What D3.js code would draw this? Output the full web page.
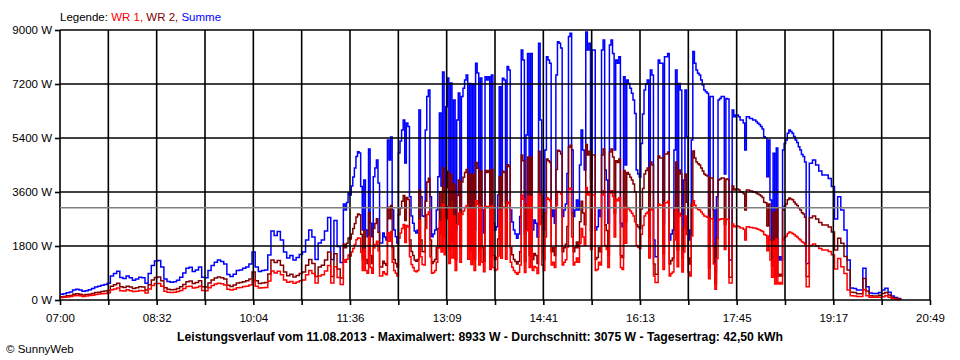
<!DOCTYPE html>
<html><head><meta charset="utf-8">
<script src="https://cdn.jsdelivr.net/npm/d3@7"></script>
<style>
body{margin:0;background:#fff;}
svg{display:block;font-family:"Liberation Sans",Arial,sans-serif;}
</style></head><body><svg id="c" width="960" height="360"></svg>
<script>
// ---- data ----
// logger sampling: [start minute after 07:00, interval (min), number of samples]
const sampling = [[0, 3, 90], [270, 1.5, 294], [711, 3, 31]];
const spanMin = 829;              // 07:00 .. 20:49
const xTickLabels = ["07:00","08:32","10:04","11:36","13:09","14:41","16:13","17:45","19:17","20:49"];
const yTicks = [0,1800,3600,5400,7200,9000];
const averageW = 3075;
const legendItems = [["WR 1, ","#ff0000"],["WR 2, ","#800000"],["Summe","#0000ff"]];
const titleText = "Leistungsverlauf vom 11.08.2013 - Maximalwert: 8933 W - Durchschnitt: 3075 W - Tagesertrag: 42,50 kWh";

const summe = [
190,210,240,270,330,360,330,290,310,340,
380,430,460,490,520,560,800,880,960,750,
720,800,740,660,700,760,740,560,880,1150,
1300,1320,1100,700,620,590,610,660,760,900,
1060,1090,950,1000,1100,760,740,980,1150,1260,
1330,1280,1200,850,780,860,980,1000,1060,1100,
1200,1600,1100,950,980,1000,1500,2300,2150,2280,
2000,1600,1400,1480,1330,1420,1520,1600,2000,2330,
2100,1350,1900,2000,2300,2750,1350,2650,1780,1250,
3200,3000,3250,3570,3500,3800,4100,4400,4780,4940,
4900,3780,2330,4000,2330,2110,5030,2560,2110,4110,
4400,4670,3900,1900,1900,2230,2100,2000,5330,4670,
5430,3000,2330,2110,1900,4900,5300,5670,6000,4570,
5900,5780,3440,2800,2560,2300,2230,2330,6330,3440,
2800,2780,5670,6780,7000,3440,2110,2200,2330,3000,
4110,6230,3800,7600,3600,6440,7400,2900,7230,3330,
6670,2330,6000,6900,3000,6780,7060,7330,7500,3230,
7220,2800,7200,2330,7890,7570,2780,7400,3000,2230,
7440,7330,7440,2440,7500,2560,2330,2440,3500,7110,
3300,7390,7330,3230,7780,7670,3000,2600,2330,2200,
2060,2200,2780,8330,8000,2200,5500,8220,2560,8220,
2330,2670,2560,2100,8560,6000,2780,2330,5000,8110,
8000,7890,2780,3000,2560,7500,8610,8560,8400,2780,
3000,3200,4220,8780,8890,5000,2780,3000,3330,3000,
4500,5670,5000,4330,8930,8330,8560,4000,8330,8330,
2330,2440,3000,2780,8330,8670,4330,4000,2560,8500,
8670,8220,5000,8000,7890,8110,2560,2440,7440,4500,
7330,7220,7060,6890,6670,6220,4330,4200,4100,5220,
6200,7000,7200,7330,3500,7670,7500,2000,1440,1440,
8000,7890,7890,2560,8110,8110,8220,2000,2200,2330,
5000,7670,2780,7220,7000,2330,4000,7000,5440,2330,
2000,5330,8280,7890,7670,7560,7500,7330,7170,7000,
6940,6890,1780,6780,6780,3000,900,3440,6670,6720,
6780,6780,4200,6720,6700,1330,1330,6330,6110,6170,
6170,6110,6000,6000,5900,5000,6110,6110,6050,6050,
6000,6000,5950,5890,5850,5780,5700,5440,5400,4110,
5330,3330,1890,4890,1330,5070,1330,1440,1330,5000,
5220,5330,5560,5670,5620,5560,5450,5330,5250,5110,
5000,4850,4780,4600,
1220,4560,4670,4500,4300,4170,4170,4050,3780,2700,
3440,3000,2330,1330,400,380,330,330,1060,440,
230,220,220,250,330,390,260,130,80,50,20];

const wr2 = [
110,120,140,150,190,210,190,170,180,190,
220,250,260,280,300,320,460,510,560,440,
420,460,430,380,410,440,430,330,510,670,
750,770,640,410,360,340,350,380,440,520,
610,630,550,580,640,440,430,570,670,730,
770,740,700,490,450,500,570,580,610,640,
700,930,640,550,570,580,870,1330,1250,1320,
1160,930,810,860,770,820,880,930,1160,1350,
1220,780,1100,1160,1330,1600,780,1540,1030,730,
1860,1740,1890,2070,2030,2200,2380,2550,2770,2870,
2840,2190,1350,2320,1350,1220,2920,1480,1220,2380,
2550,2710,2260,1100,1100,1290,1220,1160,3090,2710,
3150,1740,1350,1220,1100,2840,3070,3290,3480,2650,
3420,3350,2000,1620,1480,1330,1290,1350,3670,2000,
1620,1610,3290,3930,4060,2000,1220,1280,1350,1740,
2380,3610,2200,4410,2090,3740,4290,1680,4190,1930,
3870,1350,3480,4000,1740,3930,4090,4250,4350,1870,
4190,1620,4180,1350,4580,4390,1610,4290,1740,1290,
4320,4250,4320,1420,4350,1480,1350,1420,2030,4120,
1910,4290,4250,1870,4510,4450,1740,1510,1350,1280,
1200,1280,1610,4830,4640,1280,3190,4770,1480,4770,
1350,1550,1480,1220,4960,3480,1610,1350,2900,4700,
4640,4580,1610,1740,1480,4350,4990,4960,4870,1610,
1740,1860,2450,5090,5160,2900,1610,1740,1930,1740,
2610,3290,2900,2510,5180,4830,4960,2320,4830,4830,
1350,1420,1740,1610,4830,5030,2510,2320,1480,4930,
5030,4770,2900,4640,4580,4700,1480,1420,4320,2610,
4250,4190,4090,4000,3870,3610,2510,2440,2380,3030,
3720,4200,4320,4400,2100,4600,4500,1200,860,860,
4800,4730,4730,1540,4870,4870,4930,1200,1320,1400,
3000,4600,1670,4330,4200,1400,2400,4200,3260,1400,
1200,3200,4970,4730,4600,4540,4500,4400,4300,4200,
4160,4130,1070,4070,4070,1800,540,2060,4000,4030,
4070,4070,2520,4030,4020,760,760,3800,3670,3700,
3700,3670,3600,3600,3540,3000,3670,3670,3630,3630,
3600,3600,3570,3530,3510,3470,3420,3260,3240,2470,
3200,2000,1130,2930,800,3040,800,860,800,3000,
3130,3200,3340,3400,3370,3340,3270,3200,3150,3070,
3000,2910,2870,2760,
780,2740,2800,2700,2580,2500,2500,2430,2270,1670,
2060,1890,1450,1000,260,250,210,210,720,300,
140,130,130,160,220,250,170,80,50,30,10];

const wr1 = [
80,90,100,120,140,150,140,120,130,150,
160,180,200,210,220,240,340,370,400,310,
300,340,310,280,290,320,310,230,370,480,
550,550,460,290,260,250,260,280,320,380,
450,460,400,420,460,320,310,410,480,530,
560,540,500,360,330,360,410,420,450,460,
500,670,460,400,410,420,630,970,900,960,
840,670,590,620,560,600,640,670,840,980,
880,570,800,840,970,1150,570,1110,750,520,
1340,1260,1360,1500,1470,1600,1720,1850,2010,2070,
2060,1590,980,1680,980,890,2110,1080,890,1730,
1850,1960,1640,800,800,940,880,840,2240,1960,
2280,1260,980,890,800,2060,2230,2380,2520,1920,
2480,2430,1440,1180,1080,970,940,980,2660,1440,
1180,1170,2380,2850,2940,1440,890,920,980,1260,
1730,2620,1600,3190,1510,2700,3110,1220,3040,1400,
2800,980,2520,2900,1260,2850,2970,3080,3150,1360,
3030,1180,3020,980,3310,3180,1170,3110,1260,940,
3120,3080,3120,1020,3150,1080,980,1020,1470,2990,
1390,3100,3080,1360,3270,3220,1260,1090,980,920,
860,920,1170,3500,3360,920,2310,3450,1080,3450,
980,1120,1080,880,3600,2520,1170,980,2100,3410,
3360,3310,1170,1260,1080,3150,3620,3600,3530,1170,
1260,1340,1770,3690,3730,2100,1170,1260,1400,1260,
1890,2380,2100,1820,3750,3500,3600,1680,3500,3500,
980,1020,1260,1170,3500,3640,1820,1680,1080,3570,
3640,3450,2100,3360,3310,3410,1080,1020,3120,1890,
3080,3030,2970,2890,2800,2610,1820,1760,1720,2190,
2480,2800,2880,2930,1400,3070,3000,800,580,580,
3200,3160,3160,1020,3240,3240,3290,800,880,930,
2000,3070,1110,2890,2800,930,1600,2800,2180,930,
800,2130,3310,3160,3070,3020,3000,2930,2870,2800,
2780,2760,710,2710,2710,1200,360,1380,2670,2690,
2710,2710,1680,2690,2680,570,570,2530,2440,2470,
2470,2440,2400,2400,2360,2000,2440,2440,2420,2420,
2400,2400,2380,2360,2340,2310,2280,2180,2160,1640,
2130,1330,760,1960,530,2030,530,580,530,2000,
2090,2130,2220,2270,2250,2220,2180,2130,2100,2040,
2000,1940,1910,1840,
440,1820,1870,1800,1720,1670,1670,1620,1510,1030,
1380,1110,880,330,140,130,120,120,340,140,
90,90,90,90,110,140,90,50,30,20,10];

// ---- chart ----
const times = sampling.flatMap(([s, st, n]) => d3.range(n).map(k => s + k * st));
const svg = d3.select("#c");
const x = d3.scaleLinear().domain([0, spanMin]).range([60, 930]);
const y = d3.scaleLinear().domain([0, 9000]).range([300, 30]);
const nGrid = 18;
const xTickVals = d3.range(nGrid + 1).map(k => k * spanMin / nGrid);

const line = d3.line()
  .x((d, i) => x(times[i]))
  .y(d => y(d))
  .curve(d3.curveStepAfter);

const series = [[summe, "#0000ff"], [wr2, "#800000"], [wr1, "#ff0000"]];
svg.append("g").selectAll("path").data(series).join("path")
  .attr("d", d => line(d[0]))
  .attr("fill", "none")
  .attr("stroke", d => d[1])
  .attr("stroke-width", 1.5);

// grid (drawn over the data like the original)
const grid = svg.append("g").attr("stroke", "#000").attr("stroke-width", 1.6);
grid.selectAll("line.v").data(xTickVals).join("line")
  .attr("x1", d => x(d)).attr("x2", d => x(d))
  .attr("y1", y(9000)).attr("y2", y(0));
grid.selectAll("line.h").data(yTicks).join("line")
  .attr("x1", x(0)).attr("x2", x(spanMin))
  .attr("y1", d => y(d)).attr("y2", d => y(d));

// average line
svg.append("line")
  .attr("x1", x(0)).attr("x2", x(spanMin))
  .attr("y1", y(averageW)).attr("y2", y(averageW))
  .attr("stroke", "#808080").attr("stroke-width", 1.6);

// axes
const xAxis = d3.axisBottom(x).tickValues(xTickVals).tickSize(5).tickSizeOuter(0)
  .tickFormat((d, i) => i % 2 === 0 ? xTickLabels[i / 2] : "");
const gx = svg.append("g").attr("transform", "translate(0,300)").call(xAxis);
gx.select(".domain").remove();
gx.selectAll("line").attr("stroke", "#000").attr("stroke-width", 1.6);
gx.selectAll("text").attr("y", 21.5).attr("dy", 0).attr("fill", "#000")
  .style("font-size", "11.5px").style("font-family", '"Liberation Sans",Arial,sans-serif');

const yAxis = d3.axisLeft(y).tickValues(yTicks).tickSize(5).tickSizeOuter(0)
  .tickFormat(d => d + " W");
const gy = svg.append("g").attr("transform", "translate(60,0)").call(yAxis);
gy.select(".domain").remove();
gy.selectAll("line").attr("stroke", "#000").attr("stroke-width", 1.6);
gy.selectAll("text").attr("x", -8).attr("fill", "#000")
  .style("font-size", "11.5px").style("font-family", '"Liberation Sans",Arial,sans-serif');

// legend
const lg = svg.append("text").attr("x", 60).attr("y", 20.5).style("font-size", "11.5px");
lg.append("tspan").text("Legende: ").attr("fill", "#000");
legendItems.forEach(([t, c]) => lg.append("tspan").text(t).attr("fill", c));

// title
svg.append("text").attr("x", 480).attr("y", 341).attr("text-anchor", "middle")
  .style("font-size", "12px").style("font-weight", "bold")
  .attr("textLength", 606).attr("lengthAdjust", "spacingAndGlyphs")
  .text(titleText);

// credit
svg.append("text").attr("x", 6).attr("y", 353).style("font-size", "11.5px").text("\u00a9 SunnyWeb");
</script></body></html>
